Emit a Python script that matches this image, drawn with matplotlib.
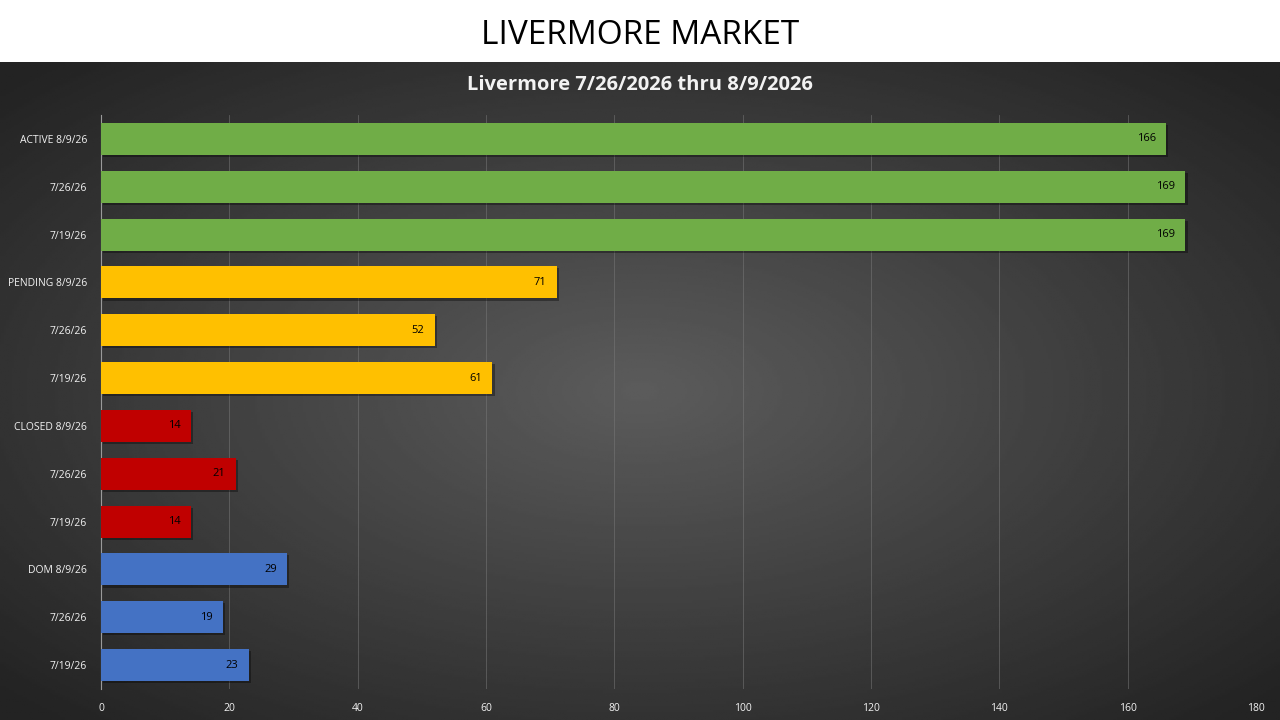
import numpy as np
import matplotlib
matplotlib.use("Agg")
import matplotlib.pyplot as plt
import matplotlib.patheffects as pe

# data, top to bottom as in the chart
labels = ["ACTIVE 8/9/26", "7/26/26", "7/19/26",
          "PENDING 8/9/26", "7/26/26", "7/19/26",
          "CLOSED 8/9/26", "7/26/26", "7/19/26",
          "DOM 8/9/26", "7/26/26", "7/19/26"]
values = [166, 169, 169, 71, 52, 61, 14, 21, 14, 29, 19, 23]
groups = ["active"] * 3 + ["pending"] * 3 + ["closed"] * 3 + ["dom"] * 3
group_colors = {"active": "#70AD47", "pending": "#FFC000",
                "closed": "#C00000", "dom": "#4472C4"}
xticks = [0, 20, 40, 60, 80, 100, 120, 140, 160, 180]

plt.rcParams['font.family'] = ['Open Sans', 'DejaVu Sans']

fig = plt.figure(figsize=(12.8, 7.2), dpi=100)
fig.patch.set_facecolor("white")

# dark radial gradient panel under the white title band
bg = fig.add_axes([0, 0, 1, 1 - 62 / 720])
yy, xx = np.mgrid[-1:1:300j, -1:1:500j]
r = np.sqrt(xx ** 2 + yy ** 2)
shade = np.clip(1 - r / 1.35, 0, 1)
img = 0.14 + 0.22 * shade
bg.imshow(img, cmap="gray", vmin=0, vmax=1, aspect="auto", extent=[0, 1, 0, 1])
bg.set_axis_off()

fig.text(0.5, 1 - 35 / 720, "LIVERMORE MARKET", ha="center", va="center",
         fontsize=24, color="black")
fig.text(0.5, 1 - 85 / 720, "Livermore 7/26/2026 thru 8/9/2026", ha="center",
         va="center", fontsize=14.5, color="#f2f2f2", fontweight="bold")

ax = fig.add_axes([101 / 1280, 1 - 689 / 720, (1256 - 101) / 1280, (689 - 115) / 720])
ax.set_facecolor("none")

pos = np.arange(len(values))
colors = [group_colors[g] for g in groups]
bars = ax.barh(pos, values, height=0.67, color=colors, zorder=3)
for b in bars:
    b.set_path_effects([pe.SimplePatchShadow(offset=(1.5, -1.5), alpha=0.35, shadow_rgbFace="black"),
                        pe.Normal()])

for b, v in zip(bars, values):
    ax.text(v - 1.6, b.get_y() + b.get_height() / 2, str(v), ha="right", va="center",
            fontsize=8, color="black", zorder=4)

ax.set_ylim(len(values) - 0.5, -0.5)
ax.set_xlim(0, 180)
ax.set_yticks(pos)
ax.set_yticklabels(labels, fontsize=7.5, color="#f2f2f2")
ax.set_xticks(xticks)
ax.set_xticklabels([str(t) for t in xticks], fontsize=7.5, color="#f2f2f2")
ax.tick_params(length=0, pad=10)
ax.grid(axis="x", color="#7a7a7a", linewidth=0.6, alpha=0.6, zorder=0)
for s in ["top", "right", "bottom"]:
    ax.spines[s].set_visible(False)
ax.spines["left"].set_color("#9a9a9a")
ax.spines["left"].set_linewidth(0.8)

fig.savefig("out.png", dpi=100, facecolor=fig.get_facecolor())
